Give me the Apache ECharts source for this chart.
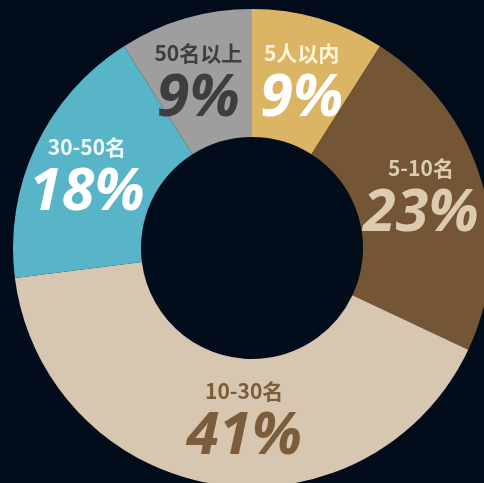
<!DOCTYPE html>
<html>
<head>
<meta charset="utf-8">
<script src="https://cdn.jsdelivr.net/npm/echarts@6/dist/echarts.min.js"></script>
<style>
  html, body { margin: 0; padding: 0; background: #020c1b; }
  #chart { width: 484px; height: 483px; }
</style>
</head>
<body>
<div id="chart"></div>
<script>
// Group names and their shares (percent)
const categories = ['5人以内', '5-10名', '10-30名', '30-50名', '50名以上'];
const shares = [9, 23, 41, 18, 9];

// Slice fills and label colours per group
const sliceColors = ['#dbb563', '#745535', '#d7c7b1', '#58b5c7', '#9f9e9f'];
const nameColors = ['#fff4d8', '#dccbb1', '#7b5d3c', '#f2fbfd', '#3e3e3e'];
const pctColors = ['#ffffff', '#dccbb1', '#7b5d3c', '#ffffff', '#3e3e3e'];
// Small nudges of label blocks inside their slices
const labelOffsets = [[0, 6], [-2, 0], [20, -3], [-4, 5], [-4, 6]];

const chart = echarts.init(document.getElementById('chart'), null, { renderer: 'canvas' });

const data = categories.map((name, i) => ({
  name: name,
  value: shares[i],
  itemStyle: { color: sliceColors[i] },
  label: {
    offset: labelOffsets[i],
    rich: {
      n: {
        color: nameColors[i],
        fontSize: 21,
        fontWeight: 'bold',
        fontFamily: '"Noto Sans CJK SC", "Noto Sans", sans-serif',
        lineHeight: 32,
        align: 'center'
      },
      p: {
        color: pctColors[i],
        fontSize: 59,
        fontWeight: 'bold',
        fontStyle: 'italic',
        fontFamily: '"Open Sans", "Noto Sans", sans-serif',
        lineHeight: 60,
        align: 'center'
      }
    }
  }
}));

chart.setOption({
  backgroundColor: '#020c1b',
  animation: false,
  series: [{
    type: 'pie',
    center: [252, 248],
    radius: [111, 239],
    startAngle: 90,
    clockwise: true,
    avoidLabelOverlap: false,
    itemStyle: { borderWidth: 0 },
    label: {
      show: true,
      position: 'inside',
      formatter: '{n|{b}}\n{p|{c}%}'
    },
    labelLine: { show: false },
    emphasis: { disabled: true },
    data: data
  }]
});
</script>
</body>
</html>
